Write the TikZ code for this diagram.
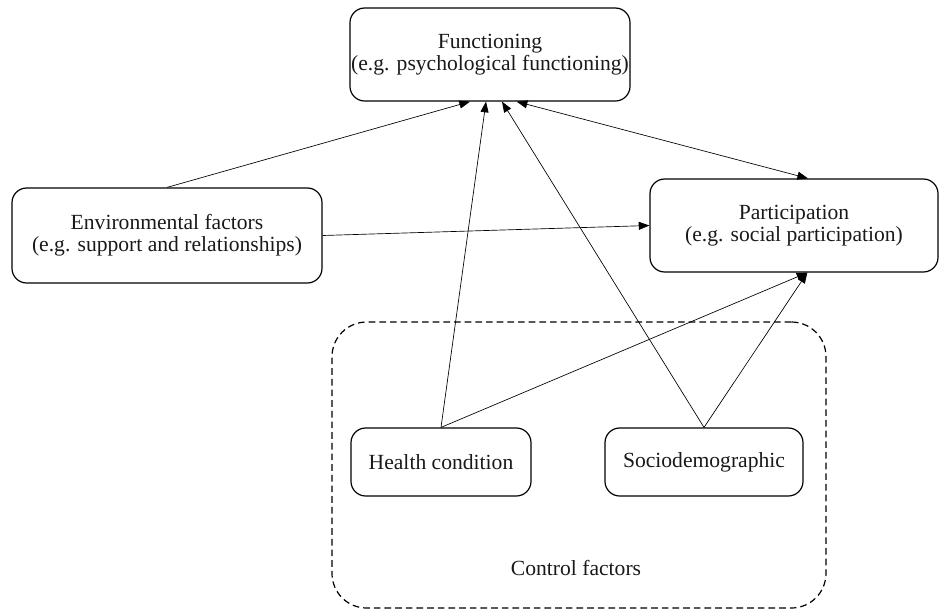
\documentclass[tikz,border=0pt]{standalone}
\usepackage{fontspec}
\setmainfont{Liberation Serif}
\usetikzlibrary{arrows.meta}
\begin{document}
\begin{tikzpicture}[x=0.75pt,y=-0.75pt,
  box/.style={draw,line width=0.9pt,rounded corners=11pt,align=center,inner sep=0pt,
    font=\fontsize{16.2}{16.2}\selectfont,text=black!90},
  ctrl/.style={draw,dashed,line width=0.9pt,rounded corners=26pt,dash pattern=on 5pt off 3pt},
  arr/.style={line width=0.5pt,-{Triangle[length=8pt,width=6pt]}},
  darr/.style={line width=0.5pt,{Triangle[length=8pt,width=6pt]}-{Triangle[length=8pt,width=6pt]}}]
\useasboundingbox (0,0) rectangle (947,612);
\node[ctrl,minimum width=370.5pt,minimum height=214.5pt] (ctrlbox) at (579,465) {};
\node[font=\fontsize{16.2}{16.2}\selectfont,text=black!90] (ctrllabel) at (576,568) {Control factors};
\node[box,minimum width=210pt,minimum height=69.75pt] (func) at (490,54.5) {Functioning\\(e.g. psychological functioning)};
\node[box,minimum width=232.5pt,minimum height=71.25pt] (env) at (167,235.5) {Environmental factors\\(e.g. support and relationships)};
\node[box,minimum width=216pt,minimum height=69.75pt] (part) at (794,225.5) {Participation\\(e.g. social participation)};
\node[box,minimum width=135pt,minimum height=51pt] (health) at (441,462) {Health condition};
\node[box,minimum width=148.5pt,minimum height=51pt] (socio) at (704,462) {Sociodemographic};
\draw[arr] (env.north) -- ([xshift=-15pt]func.south);
\draw[arr] (health.north) -- ([xshift=-3pt]func.south);
\draw[arr] (socio.north) -- ([xshift=9pt]func.south);
\draw[darr] ([xshift=20pt]func.south) -- ([xshift=10.5pt]part.north);
\draw[arr] (env.east) -- (part.west);
\draw[arr] (health.north) -- ([xshift=10pt]part.south);
\draw[arr] (socio.north) -- ([xshift=10pt]part.south);
\end{tikzpicture}
\end{document}
